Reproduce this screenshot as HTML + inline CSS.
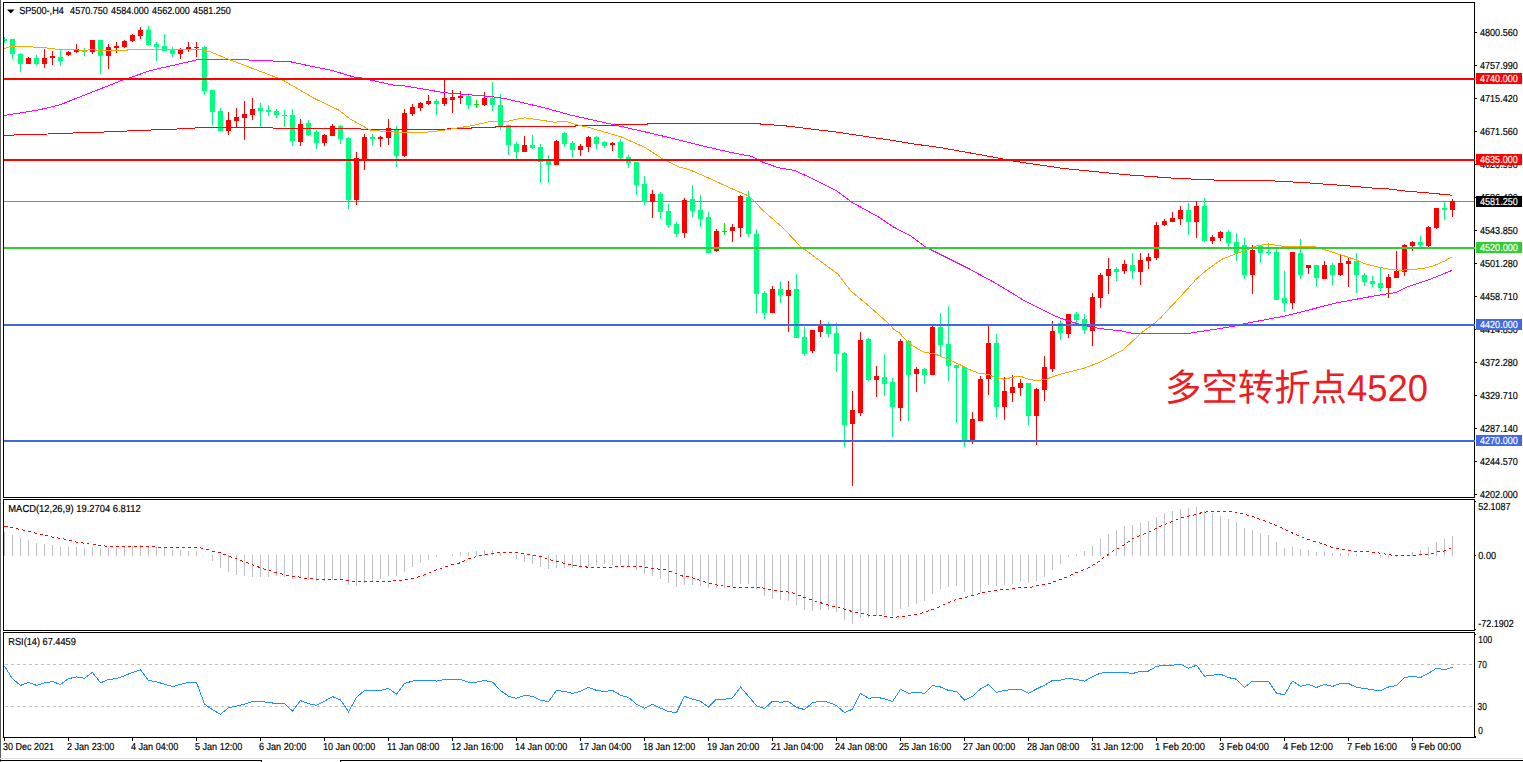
<!DOCTYPE html><html><head><meta charset="utf-8"><title>SP500-,H4</title>
<style>html,body{margin:0;padding:0;background:#fff;}svg{display:block}text{font-family:"Liberation Sans",sans-serif;text-rendering:geometricPrecision;}</style></head><body>
<svg width="1523" height="762" viewBox="0 0 1523 762">
<rect x="0" y="0" width="1523" height="762" fill="#fff"/>
<g shape-rendering="crispEdges">
<rect x="0" y="0" width="1" height="762" fill="#5c5c5c"/>
<clipPath id="cm"><rect x="4" y="3" width="1470" height="494"/></clipPath>
<rect x="4" y="201" width="1470" height="1" fill="#778899"/>
<g clip-path="url(#cm)">
<rect x="4" y="37" width="1" height="6" fill="#00FF7F"/>
<rect x="2" y="39" width="5" height="2" fill="#00FF7F"/>
<rect x="12" y="39" width="1" height="20" fill="#00FF7F"/>
<rect x="10" y="39" width="5" height="15" fill="#00FF7F"/>
<rect x="20" y="53" width="1" height="19" fill="#00FF7F"/>
<rect x="18" y="54" width="5" height="10" fill="#00FF7F"/>
<rect x="28" y="57" width="1" height="7" fill="#FF0000"/>
<rect x="26" y="58" width="5" height="6" fill="#FF0000"/>
<rect x="36" y="55" width="1" height="10" fill="#00FF7F"/>
<rect x="34" y="58" width="5" height="6" fill="#00FF7F"/>
<rect x="44" y="49" width="1" height="19" fill="#FF0000"/>
<rect x="42" y="58" width="5" height="6" fill="#FF0000"/>
<rect x="52" y="51" width="1" height="14" fill="#FF0000"/>
<rect x="50" y="56" width="5" height="2" fill="#FF0000"/>
<rect x="60" y="50" width="1" height="16" fill="#00FF7F"/>
<rect x="58" y="57" width="5" height="4" fill="#00FF7F"/>
<rect x="68" y="51" width="1" height="5" fill="#FF0000"/>
<rect x="66" y="52" width="5" height="3" fill="#FF0000"/>
<rect x="76" y="44" width="1" height="9" fill="#FF0000"/>
<rect x="74" y="49" width="5" height="3" fill="#FF0000"/>
<rect x="84" y="48" width="1" height="8" fill="#00FF7F"/>
<rect x="82" y="51" width="5" height="1" fill="#00FF7F"/>
<rect x="92" y="40" width="1" height="14" fill="#FF0000"/>
<rect x="90" y="40" width="5" height="12" fill="#FF0000"/>
<rect x="100" y="40" width="1" height="34" fill="#00FF7F"/>
<rect x="98" y="40" width="5" height="16" fill="#00FF7F"/>
<rect x="108" y="44" width="1" height="25" fill="#FF0000"/>
<rect x="106" y="47" width="5" height="9" fill="#FF0000"/>
<rect x="116" y="42" width="1" height="11" fill="#FF0000"/>
<rect x="114" y="46" width="5" height="2" fill="#FF0000"/>
<rect x="124" y="40" width="1" height="8" fill="#FF0000"/>
<rect x="122" y="41" width="5" height="6" fill="#FF0000"/>
<rect x="132" y="34" width="1" height="8" fill="#FF0000"/>
<rect x="130" y="35" width="5" height="6" fill="#FF0000"/>
<rect x="140" y="27" width="1" height="12" fill="#FF0000"/>
<rect x="138" y="30" width="5" height="6" fill="#FF0000"/>
<rect x="148" y="26" width="1" height="20" fill="#00FF7F"/>
<rect x="146" y="30" width="5" height="15" fill="#00FF7F"/>
<rect x="156" y="42" width="1" height="19" fill="#00FF7F"/>
<rect x="154" y="44" width="5" height="3" fill="#00FF7F"/>
<rect x="164" y="34" width="1" height="17" fill="#00FF7F"/>
<rect x="162" y="46" width="5" height="5" fill="#00FF7F"/>
<rect x="172" y="47" width="1" height="10" fill="#00FF7F"/>
<rect x="170" y="49" width="5" height="5" fill="#00FF7F"/>
<rect x="180" y="48" width="1" height="11" fill="#FF0000"/>
<rect x="178" y="49" width="5" height="5" fill="#FF0000"/>
<rect x="188" y="42" width="1" height="10" fill="#FF0000"/>
<rect x="186" y="47" width="5" height="2" fill="#FF0000"/>
<rect x="196" y="42" width="1" height="15" fill="#FF0000"/>
<rect x="194" y="47" width="5" height="1" fill="#FF0000"/>
<rect x="204" y="46" width="1" height="49" fill="#00FF7F"/>
<rect x="202" y="47" width="5" height="44" fill="#00FF7F"/>
<rect x="212" y="90" width="1" height="35" fill="#00FF7F"/>
<rect x="210" y="90" width="5" height="22" fill="#00FF7F"/>
<rect x="220" y="108" width="1" height="23" fill="#00FF7F"/>
<rect x="218" y="111" width="5" height="20" fill="#00FF7F"/>
<rect x="228" y="112" width="1" height="23" fill="#FF0000"/>
<rect x="226" y="120" width="5" height="11" fill="#FF0000"/>
<rect x="236" y="108" width="1" height="19" fill="#FF0000"/>
<rect x="234" y="117" width="5" height="4" fill="#FF0000"/>
<rect x="244" y="101" width="1" height="39" fill="#FF0000"/>
<rect x="242" y="114" width="5" height="4" fill="#FF0000"/>
<rect x="252" y="98" width="1" height="22" fill="#FF0000"/>
<rect x="250" y="109" width="5" height="6" fill="#FF0000"/>
<rect x="260" y="103" width="1" height="24" fill="#00FF7F"/>
<rect x="258" y="108" width="5" height="3" fill="#00FF7F"/>
<rect x="268" y="105" width="1" height="11" fill="#00FF7F"/>
<rect x="266" y="110" width="5" height="2" fill="#00FF7F"/>
<rect x="276" y="109" width="1" height="9" fill="#00FF7F"/>
<rect x="274" y="111" width="5" height="4" fill="#00FF7F"/>
<rect x="284" y="110" width="1" height="17" fill="#00FF7F"/>
<rect x="282" y="115" width="5" height="1" fill="#00FF7F"/>
<rect x="292" y="109" width="1" height="37" fill="#00FF7F"/>
<rect x="290" y="115" width="5" height="26" fill="#00FF7F"/>
<rect x="300" y="119" width="1" height="27" fill="#FF0000"/>
<rect x="298" y="124" width="5" height="18" fill="#FF0000"/>
<rect x="308" y="120" width="1" height="16" fill="#00FF7F"/>
<rect x="306" y="123" width="5" height="12" fill="#00FF7F"/>
<rect x="316" y="130" width="1" height="19" fill="#00FF7F"/>
<rect x="314" y="132" width="5" height="11" fill="#00FF7F"/>
<rect x="324" y="134" width="1" height="12" fill="#FF0000"/>
<rect x="322" y="135" width="5" height="8" fill="#FF0000"/>
<rect x="332" y="124" width="1" height="12" fill="#FF0000"/>
<rect x="330" y="126" width="5" height="10" fill="#FF0000"/>
<rect x="340" y="125" width="1" height="19" fill="#00FF7F"/>
<rect x="338" y="126" width="5" height="13" fill="#00FF7F"/>
<rect x="348" y="137" width="1" height="72" fill="#00FF7F"/>
<rect x="346" y="138" width="5" height="62" fill="#00FF7F"/>
<rect x="356" y="152" width="1" height="53" fill="#FF0000"/>
<rect x="354" y="158" width="5" height="42" fill="#FF0000"/>
<rect x="364" y="134" width="1" height="36" fill="#FF0000"/>
<rect x="362" y="137" width="5" height="23" fill="#FF0000"/>
<rect x="372" y="134" width="1" height="11" fill="#00FF7F"/>
<rect x="370" y="137" width="5" height="2" fill="#00FF7F"/>
<rect x="380" y="136" width="1" height="11" fill="#FF0000"/>
<rect x="378" y="137" width="5" height="2" fill="#FF0000"/>
<rect x="388" y="119" width="1" height="26" fill="#FF0000"/>
<rect x="386" y="128" width="5" height="10" fill="#FF0000"/>
<rect x="396" y="126" width="1" height="41" fill="#00FF7F"/>
<rect x="394" y="129" width="5" height="27" fill="#00FF7F"/>
<rect x="404" y="109" width="1" height="48" fill="#FF0000"/>
<rect x="402" y="113" width="5" height="43" fill="#FF0000"/>
<rect x="412" y="104" width="1" height="12" fill="#FF0000"/>
<rect x="410" y="107" width="5" height="7" fill="#FF0000"/>
<rect x="420" y="102" width="1" height="9" fill="#FF0000"/>
<rect x="418" y="103" width="5" height="5" fill="#FF0000"/>
<rect x="428" y="95" width="1" height="10" fill="#FF0000"/>
<rect x="426" y="101" width="5" height="3" fill="#FF0000"/>
<rect x="436" y="99" width="1" height="16" fill="#00FF7F"/>
<rect x="434" y="101" width="5" height="3" fill="#00FF7F"/>
<rect x="444" y="80" width="1" height="26" fill="#FF0000"/>
<rect x="442" y="98" width="5" height="6" fill="#FF0000"/>
<rect x="452" y="90" width="1" height="23" fill="#FF0000"/>
<rect x="450" y="97" width="5" height="3" fill="#FF0000"/>
<rect x="460" y="91" width="1" height="13" fill="#FF0000"/>
<rect x="458" y="96" width="5" height="2" fill="#FF0000"/>
<rect x="468" y="95" width="1" height="14" fill="#00FF7F"/>
<rect x="466" y="96" width="5" height="9" fill="#00FF7F"/>
<rect x="476" y="100" width="1" height="8" fill="#00E600"/>
<rect x="474" y="104" width="5" height="1" fill="#00E600"/>
<rect x="484" y="92" width="1" height="14" fill="#FF0000"/>
<rect x="482" y="98" width="5" height="7" fill="#FF0000"/>
<rect x="492" y="82" width="1" height="29" fill="#00FF7F"/>
<rect x="490" y="98" width="5" height="7" fill="#00FF7F"/>
<rect x="500" y="94" width="1" height="36" fill="#00FF7F"/>
<rect x="498" y="105" width="5" height="21" fill="#00FF7F"/>
<rect x="508" y="125" width="1" height="30" fill="#00FF7F"/>
<rect x="506" y="125" width="5" height="20" fill="#00FF7F"/>
<rect x="516" y="142" width="1" height="17" fill="#00FF7F"/>
<rect x="514" y="144" width="5" height="8" fill="#00FF7F"/>
<rect x="524" y="136" width="1" height="16" fill="#FF0000"/>
<rect x="522" y="145" width="5" height="7" fill="#FF0000"/>
<rect x="532" y="135" width="1" height="14" fill="#00FF7F"/>
<rect x="530" y="145" width="5" height="3" fill="#00FF7F"/>
<rect x="540" y="144" width="1" height="39" fill="#00FF7F"/>
<rect x="538" y="147" width="5" height="15" fill="#00FF7F"/>
<rect x="548" y="155" width="1" height="28" fill="#00FF7F"/>
<rect x="546" y="161" width="5" height="4" fill="#00FF7F"/>
<rect x="556" y="140" width="1" height="25" fill="#FF0000"/>
<rect x="554" y="141" width="5" height="24" fill="#FF0000"/>
<rect x="564" y="132" width="1" height="15" fill="#00FF7F"/>
<rect x="562" y="133" width="5" height="11" fill="#00FF7F"/>
<rect x="572" y="141" width="1" height="17" fill="#00FF7F"/>
<rect x="570" y="143" width="5" height="7" fill="#00FF7F"/>
<rect x="580" y="144" width="1" height="12" fill="#FF0000"/>
<rect x="578" y="146" width="5" height="4" fill="#FF0000"/>
<rect x="588" y="136" width="1" height="16" fill="#FF0000"/>
<rect x="586" y="137" width="5" height="10" fill="#FF0000"/>
<rect x="596" y="136" width="1" height="13" fill="#00FF7F"/>
<rect x="594" y="137" width="5" height="7" fill="#00FF7F"/>
<rect x="604" y="141" width="1" height="7" fill="#00FF7F"/>
<rect x="602" y="142" width="5" height="4" fill="#00FF7F"/>
<rect x="612" y="142" width="1" height="9" fill="#FF0000"/>
<rect x="610" y="143" width="5" height="2" fill="#FF0000"/>
<rect x="620" y="139" width="1" height="20" fill="#00FF7F"/>
<rect x="618" y="142" width="5" height="16" fill="#00FF7F"/>
<rect x="628" y="155" width="1" height="13" fill="#00FF7F"/>
<rect x="626" y="157" width="5" height="6" fill="#00FF7F"/>
<rect x="636" y="162" width="1" height="33" fill="#00FF7F"/>
<rect x="634" y="162" width="5" height="23" fill="#00FF7F"/>
<rect x="644" y="176" width="1" height="29" fill="#00FF7F"/>
<rect x="642" y="184" width="5" height="18" fill="#00FF7F"/>
<rect x="652" y="190" width="1" height="28" fill="#FF0000"/>
<rect x="650" y="194" width="5" height="8" fill="#FF0000"/>
<rect x="660" y="192" width="1" height="27" fill="#00FF7F"/>
<rect x="658" y="194" width="5" height="18" fill="#00FF7F"/>
<rect x="668" y="204" width="1" height="24" fill="#00FF7F"/>
<rect x="666" y="211" width="5" height="14" fill="#00FF7F"/>
<rect x="676" y="222" width="1" height="15" fill="#00FF7F"/>
<rect x="674" y="224" width="5" height="10" fill="#00FF7F"/>
<rect x="684" y="198" width="1" height="40" fill="#FF0000"/>
<rect x="682" y="200" width="5" height="33" fill="#FF0000"/>
<rect x="692" y="185" width="1" height="32" fill="#00FF7F"/>
<rect x="690" y="199" width="5" height="12" fill="#00FF7F"/>
<rect x="700" y="195" width="1" height="32" fill="#00FF7F"/>
<rect x="698" y="210" width="5" height="9" fill="#00FF7F"/>
<rect x="708" y="212" width="1" height="41" fill="#00FF7F"/>
<rect x="706" y="217" width="5" height="36" fill="#00FF7F"/>
<rect x="716" y="229" width="1" height="23" fill="#FF0000"/>
<rect x="714" y="231" width="5" height="20" fill="#FF0000"/>
<rect x="724" y="223" width="1" height="12" fill="#00E600"/>
<rect x="722" y="231" width="5" height="1" fill="#00E600"/>
<rect x="732" y="224" width="1" height="18" fill="#FF0000"/>
<rect x="730" y="227" width="5" height="4" fill="#FF0000"/>
<rect x="740" y="195" width="1" height="42" fill="#FF0000"/>
<rect x="738" y="196" width="5" height="32" fill="#FF0000"/>
<rect x="748" y="191" width="1" height="46" fill="#00FF7F"/>
<rect x="746" y="197" width="5" height="37" fill="#00FF7F"/>
<rect x="756" y="229" width="1" height="84" fill="#00FF7F"/>
<rect x="754" y="234" width="5" height="60" fill="#00FF7F"/>
<rect x="764" y="291" width="1" height="28" fill="#00FF7F"/>
<rect x="762" y="293" width="5" height="20" fill="#00FF7F"/>
<rect x="772" y="286" width="1" height="27" fill="#FF0000"/>
<rect x="770" y="289" width="5" height="24" fill="#FF0000"/>
<rect x="780" y="281" width="1" height="22" fill="#00FF7F"/>
<rect x="778" y="289" width="5" height="6" fill="#00FF7F"/>
<rect x="788" y="281" width="1" height="51" fill="#FF0000"/>
<rect x="786" y="290" width="5" height="6" fill="#FF0000"/>
<rect x="796" y="274" width="1" height="64" fill="#00FF7F"/>
<rect x="794" y="289" width="5" height="49" fill="#00FF7F"/>
<rect x="804" y="327" width="1" height="29" fill="#00FF7F"/>
<rect x="802" y="337" width="5" height="17" fill="#00FF7F"/>
<rect x="812" y="330" width="1" height="23" fill="#FF0000"/>
<rect x="810" y="330" width="5" height="21" fill="#FF0000"/>
<rect x="820" y="320" width="1" height="17" fill="#FF0000"/>
<rect x="818" y="326" width="5" height="6" fill="#FF0000"/>
<rect x="828" y="322" width="1" height="15" fill="#00FF7F"/>
<rect x="826" y="326" width="5" height="8" fill="#00FF7F"/>
<rect x="836" y="323" width="1" height="49" fill="#00FF7F"/>
<rect x="834" y="333" width="5" height="21" fill="#00FF7F"/>
<rect x="844" y="352" width="1" height="95" fill="#00FF7F"/>
<rect x="842" y="353" width="5" height="72" fill="#00FF7F"/>
<rect x="852" y="391" width="1" height="95" fill="#FF0000"/>
<rect x="850" y="410" width="5" height="14" fill="#FF0000"/>
<rect x="860" y="332" width="1" height="84" fill="#FF0000"/>
<rect x="858" y="340" width="5" height="73" fill="#FF0000"/>
<rect x="868" y="338" width="1" height="43" fill="#00FF7F"/>
<rect x="866" y="339" width="5" height="41" fill="#00FF7F"/>
<rect x="876" y="366" width="1" height="31" fill="#FF0000"/>
<rect x="874" y="376" width="5" height="4" fill="#FF0000"/>
<rect x="884" y="354" width="1" height="42" fill="#00FF7F"/>
<rect x="882" y="377" width="5" height="7" fill="#00FF7F"/>
<rect x="892" y="378" width="1" height="59" fill="#00FF7F"/>
<rect x="890" y="382" width="5" height="25" fill="#00FF7F"/>
<rect x="900" y="339" width="1" height="82" fill="#FF0000"/>
<rect x="898" y="341" width="5" height="67" fill="#FF0000"/>
<rect x="908" y="340" width="1" height="81" fill="#00FF7F"/>
<rect x="906" y="341" width="5" height="34" fill="#00FF7F"/>
<rect x="916" y="367" width="1" height="25" fill="#FF0000"/>
<rect x="914" y="369" width="5" height="5" fill="#FF0000"/>
<rect x="924" y="368" width="1" height="16" fill="#00FF7F"/>
<rect x="922" y="369" width="5" height="6" fill="#00FF7F"/>
<rect x="932" y="326" width="1" height="49" fill="#FF0000"/>
<rect x="930" y="327" width="5" height="48" fill="#FF0000"/>
<rect x="940" y="313" width="1" height="44" fill="#00FF7F"/>
<rect x="938" y="327" width="5" height="18" fill="#00FF7F"/>
<rect x="948" y="306" width="1" height="75" fill="#00FF7F"/>
<rect x="946" y="344" width="5" height="22" fill="#00FF7F"/>
<rect x="956" y="365" width="1" height="58" fill="#00FF7F"/>
<rect x="954" y="365" width="5" height="3" fill="#00FF7F"/>
<rect x="964" y="366" width="1" height="81" fill="#00FF7F"/>
<rect x="962" y="367" width="5" height="73" fill="#00FF7F"/>
<rect x="972" y="412" width="1" height="32" fill="#FF0000"/>
<rect x="970" y="419" width="5" height="21" fill="#FF0000"/>
<rect x="980" y="376" width="1" height="45" fill="#FF0000"/>
<rect x="978" y="379" width="5" height="42" fill="#FF0000"/>
<rect x="988" y="326" width="1" height="69" fill="#FF0000"/>
<rect x="986" y="343" width="5" height="36" fill="#FF0000"/>
<rect x="996" y="334" width="1" height="83" fill="#00FF7F"/>
<rect x="994" y="343" width="5" height="64" fill="#00FF7F"/>
<rect x="1004" y="377" width="1" height="43" fill="#FF0000"/>
<rect x="1002" y="391" width="5" height="16" fill="#FF0000"/>
<rect x="1012" y="375" width="1" height="27" fill="#FF0000"/>
<rect x="1010" y="387" width="5" height="6" fill="#FF0000"/>
<rect x="1020" y="379" width="1" height="17" fill="#FF0000"/>
<rect x="1018" y="383" width="5" height="5" fill="#FF0000"/>
<rect x="1028" y="383" width="1" height="42" fill="#00FF7F"/>
<rect x="1026" y="383" width="5" height="33" fill="#00FF7F"/>
<rect x="1036" y="388" width="1" height="57" fill="#FF0000"/>
<rect x="1034" y="389" width="5" height="27" fill="#FF0000"/>
<rect x="1044" y="356" width="1" height="45" fill="#FF0000"/>
<rect x="1042" y="367" width="5" height="23" fill="#FF0000"/>
<rect x="1052" y="321" width="1" height="51" fill="#FF0000"/>
<rect x="1050" y="331" width="5" height="38" fill="#FF0000"/>
<rect x="1060" y="320" width="1" height="20" fill="#00FF7F"/>
<rect x="1058" y="323" width="5" height="10" fill="#00FF7F"/>
<rect x="1068" y="314" width="1" height="24" fill="#FF0000"/>
<rect x="1066" y="314" width="5" height="20" fill="#FF0000"/>
<rect x="1076" y="312" width="1" height="11" fill="#00FF7F"/>
<rect x="1074" y="314" width="5" height="6" fill="#00FF7F"/>
<rect x="1084" y="314" width="1" height="20" fill="#00FF7F"/>
<rect x="1082" y="319" width="5" height="11" fill="#00FF7F"/>
<rect x="1092" y="293" width="1" height="53" fill="#FF0000"/>
<rect x="1090" y="297" width="5" height="34" fill="#FF0000"/>
<rect x="1100" y="273" width="1" height="35" fill="#FF0000"/>
<rect x="1098" y="275" width="5" height="23" fill="#FF0000"/>
<rect x="1108" y="258" width="1" height="36" fill="#FF0000"/>
<rect x="1106" y="269" width="5" height="7" fill="#FF0000"/>
<rect x="1116" y="267" width="1" height="14" fill="#00FF7F"/>
<rect x="1114" y="269" width="5" height="3" fill="#00FF7F"/>
<rect x="1124" y="260" width="1" height="14" fill="#FF0000"/>
<rect x="1122" y="264" width="5" height="7" fill="#FF0000"/>
<rect x="1132" y="253" width="1" height="26" fill="#00FF7F"/>
<rect x="1130" y="265" width="5" height="6" fill="#00FF7F"/>
<rect x="1140" y="253" width="1" height="32" fill="#FF0000"/>
<rect x="1138" y="260" width="5" height="12" fill="#FF0000"/>
<rect x="1148" y="253" width="1" height="16" fill="#FF0000"/>
<rect x="1146" y="257" width="5" height="4" fill="#FF0000"/>
<rect x="1156" y="222" width="1" height="38" fill="#FF0000"/>
<rect x="1154" y="225" width="5" height="33" fill="#FF0000"/>
<rect x="1164" y="219" width="1" height="7" fill="#FF0000"/>
<rect x="1162" y="221" width="5" height="4" fill="#FF0000"/>
<rect x="1172" y="212" width="1" height="10" fill="#FF0000"/>
<rect x="1170" y="218" width="5" height="4" fill="#FF0000"/>
<rect x="1180" y="206" width="1" height="19" fill="#FF0000"/>
<rect x="1178" y="210" width="5" height="9" fill="#FF0000"/>
<rect x="1188" y="203" width="1" height="32" fill="#00FF7F"/>
<rect x="1186" y="210" width="5" height="12" fill="#00FF7F"/>
<rect x="1196" y="201" width="1" height="37" fill="#FF0000"/>
<rect x="1194" y="206" width="5" height="16" fill="#FF0000"/>
<rect x="1204" y="198" width="1" height="44" fill="#00FF7F"/>
<rect x="1202" y="206" width="5" height="35" fill="#00FF7F"/>
<rect x="1212" y="235" width="1" height="9" fill="#FF0000"/>
<rect x="1210" y="237" width="5" height="4" fill="#FF0000"/>
<rect x="1220" y="231" width="1" height="10" fill="#FF0000"/>
<rect x="1218" y="232" width="5" height="6" fill="#FF0000"/>
<rect x="1228" y="230" width="1" height="20" fill="#00FF7F"/>
<rect x="1226" y="232" width="5" height="11" fill="#00FF7F"/>
<rect x="1236" y="233" width="1" height="28" fill="#00FF7F"/>
<rect x="1234" y="242" width="5" height="11" fill="#00FF7F"/>
<rect x="1244" y="238" width="1" height="41" fill="#00FF7F"/>
<rect x="1242" y="245" width="5" height="30" fill="#00FF7F"/>
<rect x="1252" y="245" width="1" height="49" fill="#FF0000"/>
<rect x="1250" y="250" width="5" height="25" fill="#FF0000"/>
<rect x="1260" y="246" width="1" height="17" fill="#00FF7F"/>
<rect x="1258" y="246" width="5" height="7" fill="#00FF7F"/>
<rect x="1268" y="243" width="1" height="12" fill="#00FF7F"/>
<rect x="1266" y="252" width="5" height="1" fill="#00FF7F"/>
<rect x="1276" y="249" width="1" height="51" fill="#00FF7F"/>
<rect x="1274" y="252" width="5" height="48" fill="#00FF7F"/>
<rect x="1284" y="271" width="1" height="41" fill="#00FF7F"/>
<rect x="1282" y="298" width="5" height="5" fill="#00FF7F"/>
<rect x="1292" y="252" width="1" height="57" fill="#FF0000"/>
<rect x="1290" y="252" width="5" height="51" fill="#FF0000"/>
<rect x="1300" y="239" width="1" height="40" fill="#00FF7F"/>
<rect x="1298" y="253" width="5" height="22" fill="#00FF7F"/>
<rect x="1308" y="265" width="1" height="9" fill="#FF0000"/>
<rect x="1306" y="265" width="5" height="3" fill="#FF0000"/>
<rect x="1316" y="265" width="1" height="22" fill="#00FF7F"/>
<rect x="1314" y="265" width="5" height="13" fill="#00FF7F"/>
<rect x="1324" y="261" width="1" height="18" fill="#FF0000"/>
<rect x="1322" y="265" width="5" height="14" fill="#FF0000"/>
<rect x="1332" y="263" width="1" height="23" fill="#00FF7F"/>
<rect x="1330" y="265" width="5" height="10" fill="#00FF7F"/>
<rect x="1340" y="255" width="1" height="21" fill="#FF0000"/>
<rect x="1338" y="263" width="5" height="12" fill="#FF0000"/>
<rect x="1348" y="257" width="1" height="30" fill="#FF0000"/>
<rect x="1346" y="261" width="5" height="3" fill="#FF0000"/>
<rect x="1356" y="253" width="1" height="40" fill="#00FF7F"/>
<rect x="1354" y="261" width="5" height="14" fill="#00FF7F"/>
<rect x="1364" y="273" width="1" height="13" fill="#00FF7F"/>
<rect x="1362" y="275" width="5" height="7" fill="#00FF7F"/>
<rect x="1372" y="276" width="1" height="11" fill="#00FF7F"/>
<rect x="1370" y="281" width="5" height="3" fill="#00FF7F"/>
<rect x="1380" y="268" width="1" height="23" fill="#00FF7F"/>
<rect x="1378" y="283" width="5" height="5" fill="#00FF7F"/>
<rect x="1388" y="274" width="1" height="24" fill="#FF0000"/>
<rect x="1386" y="277" width="5" height="11" fill="#FF0000"/>
<rect x="1396" y="251" width="1" height="27" fill="#FF0000"/>
<rect x="1394" y="271" width="5" height="7" fill="#FF0000"/>
<rect x="1404" y="244" width="1" height="32" fill="#FF0000"/>
<rect x="1402" y="245" width="5" height="27" fill="#FF0000"/>
<rect x="1412" y="241" width="1" height="10" fill="#FF0000"/>
<rect x="1410" y="242" width="5" height="4" fill="#FF0000"/>
<rect x="1420" y="236" width="1" height="11" fill="#00FF7F"/>
<rect x="1418" y="242" width="5" height="3" fill="#00FF7F"/>
<rect x="1428" y="226" width="1" height="21" fill="#FF0000"/>
<rect x="1426" y="227" width="5" height="19" fill="#FF0000"/>
<rect x="1436" y="208" width="1" height="21" fill="#FF0000"/>
<rect x="1434" y="208" width="5" height="20" fill="#FF0000"/>
<rect x="1444" y="202" width="1" height="18" fill="#00FF7F"/>
<rect x="1442" y="208" width="5" height="2" fill="#00FF7F"/>
<rect x="1452" y="199" width="1" height="18" fill="#FF0000"/>
<rect x="1450" y="201" width="5" height="9" fill="#FF0000"/>
</g>
<g clip-path="url(#cm)">
<polyline points="4.0,135.3 24.0,134.7 48.0,134.0 73.0,133.0 97.0,132.3 121.0,131.3 137.0,130.5 160.0,129.7 192.0,128.4 200.0,127.4 272.0,127.4 274.0,128.6 360.0,128.6 362.0,129.6 447.0,129.6 448.0,128.6 471.0,128.6 472.0,127.5 495.0,127.5 496.0,126.5 575.0,126.5 576.0,125.4 615.0,125.4 616.0,124.4 647.0,124.4 648.0,123.4 752.0,123.4 784.0,125.7 810.0,128.9 836.0,132.0 862.6,136.0 889.0,139.9 915.0,144.1 941.4,147.8 967.7,152.5 1000.0,158.3 1009.5,160.5 1063.0,168.4 1126.0,174.7 1176.5,178.4 1220.6,180.3 1261.6,180.3 1302.6,182.5 1346.7,185.7 1378.2,188.6 1385.0,188.6 1393.0,189.5 1401.0,190.5 1409.0,191.5 1425.0,192.5 1433.0,193.6 1449.0,194.6 1452.0,195.5" fill="none" stroke="#FF0000" stroke-width="1" />
<polyline points="4.0,115.5 26.0,112.0 38.1,110.1 60.4,104.6 122.1,80.3 151.0,70.4 200.0,59.2 248.6,59.7 249.2,60.6 272.9,60.6 273.5,61.4 288.6,61.4 311.6,66.3 331.3,70.2 355.0,77.4 360.9,77.8 370.7,80.1 395.7,85.7 400.0,85.2 444.6,92.7 491.9,96.7 505.1,98.6 544.5,107.8 570.7,115.1 600.0,121.6 626.3,127.6 652.5,133.6 678.8,139.9 705.1,146.5 731.3,152.5 752.3,156.5 762.8,162.2 778.6,167.8 794.4,170.4 810.1,177.5 836.4,190.6 852.1,202.4 878.4,216.9 894.2,227.4 909.9,235.3 925.7,247.1 941.4,255.0 967.7,268.1 995.5,283.1 1025.7,301.5 1051.9,314.6 1065.1,319.9 1078.2,323.8 1091.3,327.1 1104.5,329.1 1120.2,330.7 1129.4,332.8 1137.3,333.7 1189.9,333.2 1231.9,326.6 1246.4,323.3 1284.5,316.1 1310.7,309.5 1335.7,303.0 1375.1,295.8 1396.1,292.5 1407.9,286.6 1430.2,279.3 1451.9,270.4" fill="none" stroke="#FF00FF" stroke-width="1" />
<polyline points="4.0,48.6 4.9,48.3 12.5,46.1 31.5,46.1 34.1,47.4 48.6,48.1 57.8,49.4 73.5,49.4 84.0,50.7 91.9,49.4 99.8,50.7 126.1,50.7 128.7,49.4 200.0,49.4 210.5,51.8 226.3,58.4 276.2,77.4 284.0,80.7 314.2,98.4 339.2,110.3 349.7,118.8 368.1,129.0 372.0,130.6 386.5,131.3 400.0,132.5 423.6,132.5 439.4,130.8 452.5,128.8 472.2,125.6 491.9,121.2 507.7,121.2 518.2,119.0 524.8,117.9 528.7,118.3 544.5,120.7 555.0,122.3 562.8,121.2 566.8,121.6 576.0,124.6 589.1,127.5 600.0,130.8 621.0,136.8 644.6,147.3 663.0,159.1 678.8,167.0 689.3,169.6 710.3,178.8 731.3,188.5 749.7,196.4 762.8,210.3 783.8,228.7 802.2,248.4 805.1,249.8 837.9,274.1 851.0,291.2 870.7,307.6 889.1,324.0 894.2,329.7 899.5,333.0 906.1,340.2 911.3,344.8 916.6,348.1 924.5,352.3 935.0,354.0 949.4,359.9 966.5,367.8 967.9,369.0 979.7,373.6 988.9,374.3 995.5,377.6 1004.6,379.2 1016.5,376.3 1021.7,376.7 1028.3,379.2 1036.2,380.5 1045.4,379.5 1059.8,374.3 1083.4,368.4 1099.2,362.5 1122.8,350.1 1141.2,333.0 1154.4,323.3 1161.0,317.4 1176.8,300.4 1194.2,281.7 1194.5,280.7 1206.1,270.5 1221.8,259.3 1235.0,254.1 1245.5,250.2 1257.3,245.6 1267.8,244.2 1280.0,245.6 1283.1,246.5 1288.4,246.1 1313.3,246.1 1322.5,249.1 1339.6,254.4 1355.4,259.6 1364.6,263.6 1380.3,267.5 1390.8,269.5 1401.3,270.2 1414.5,269.1 1422.3,268.8 1434.1,265.6 1444.7,261.0 1451.9,257.0" fill="none" stroke="#FFA500" stroke-width="1" />
</g>
<rect x="3" y="2" width="1472" height="1" fill="#000"/>
<rect x="3" y="2" width="1" height="736" fill="#000"/>
<rect x="1474" y="2" width="1" height="736" fill="#000"/>
<rect x="3" y="497" width="1472" height="1" fill="#000"/>
<rect x="3" y="498" width="1" height="1" fill="#fff"/>
<rect x="3" y="499" width="1472" height="1" fill="#000"/>
<rect x="3" y="630" width="1472" height="1" fill="#000"/>
<rect x="3" y="631" width="1" height="1" fill="#fff"/>
<rect x="3" y="632" width="1472" height="1" fill="#000"/>
<rect x="3" y="737" width="1473" height="1" fill="#000"/>
<rect x="1474" y="498" width="1" height="1" fill="#fff"/>
<rect x="1474" y="631" width="1" height="1" fill="#fff"/>
<rect x="4" y="78" width="1471" height="2" fill="#FF0000"/>
<rect x="4" y="159" width="1471" height="2" fill="#FF0000"/>
<rect x="4" y="247" width="1471" height="2" fill="#32CD32"/>
<rect x="4" y="324" width="1471" height="2" fill="#4169E1"/>
<rect x="4" y="440" width="1471" height="2" fill="#4169E1"/>
<rect x="1475" y="32" width="2" height="1" fill="#000"/>
<rect x="1475" y="65" width="2" height="1" fill="#000"/>
<rect x="1475" y="98" width="2" height="1" fill="#000"/>
<rect x="1475" y="131" width="2" height="1" fill="#000"/>
<rect x="1475" y="164" width="2" height="1" fill="#000"/>
<rect x="1475" y="197" width="2" height="1" fill="#000"/>
<rect x="1475" y="230" width="2" height="1" fill="#000"/>
<rect x="1475" y="263" width="2" height="1" fill="#000"/>
<rect x="1475" y="296" width="2" height="1" fill="#000"/>
<rect x="1475" y="329" width="2" height="1" fill="#000"/>
<rect x="1475" y="362" width="2" height="1" fill="#000"/>
<rect x="1475" y="395" width="2" height="1" fill="#000"/>
<rect x="1475" y="428" width="2" height="1" fill="#000"/>
<rect x="1475" y="461" width="2" height="1" fill="#000"/>
<rect x="1475" y="494" width="2" height="1" fill="#000"/>
<rect x="1475" y="501" width="1" height="1" fill="#000"/>
<rect x="1475" y="555" width="1" height="1" fill="#000"/>
<rect x="1475" y="629" width="1" height="1" fill="#000"/>
<rect x="1475" y="634" width="1" height="1" fill="#000"/>
<rect x="1475" y="736" width="1" height="1" fill="#000"/>
<rect x="4" y="738" width="1" height="3" fill="#000"/>
<rect x="68" y="738" width="1" height="3" fill="#000"/>
<rect x="132" y="738" width="1" height="3" fill="#000"/>
<rect x="196" y="738" width="1" height="3" fill="#000"/>
<rect x="260" y="738" width="1" height="3" fill="#000"/>
<rect x="324" y="738" width="1" height="3" fill="#000"/>
<rect x="388" y="738" width="1" height="3" fill="#000"/>
<rect x="452" y="738" width="1" height="3" fill="#000"/>
<rect x="516" y="738" width="1" height="3" fill="#000"/>
<rect x="580" y="738" width="1" height="3" fill="#000"/>
<rect x="644" y="738" width="1" height="3" fill="#000"/>
<rect x="708" y="738" width="1" height="3" fill="#000"/>
<rect x="772" y="738" width="1" height="3" fill="#000"/>
<rect x="836" y="738" width="1" height="3" fill="#000"/>
<rect x="900" y="738" width="1" height="3" fill="#000"/>
<rect x="964" y="738" width="1" height="3" fill="#000"/>
<rect x="1028" y="738" width="1" height="3" fill="#000"/>
<rect x="1092" y="738" width="1" height="3" fill="#000"/>
<rect x="1156" y="738" width="1" height="3" fill="#000"/>
<rect x="1220" y="738" width="1" height="3" fill="#000"/>
<rect x="1284" y="738" width="1" height="3" fill="#000"/>
<rect x="1348" y="738" width="1" height="3" fill="#000"/>
<rect x="1412" y="738" width="1" height="3" fill="#000"/>
<rect x="0" y="758" width="1523" height="1" fill="#dcdcdc"/>
<rect x="0" y="760" width="262" height="1" fill="#000"/>
<rect x="261" y="760" width="1" height="2" fill="#000"/>
<rect x="340" y="760" width="1183" height="1" fill="#000"/>
<rect x="340" y="760" width="1" height="2" fill="#000"/>
<rect x="4" y="532" width="1" height="24" fill="#C0C0C0"/>
<rect x="12" y="535" width="1" height="21" fill="#C0C0C0"/>
<rect x="20" y="538" width="1" height="18" fill="#C0C0C0"/>
<rect x="28" y="540" width="1" height="16" fill="#C0C0C0"/>
<rect x="36" y="543" width="1" height="13" fill="#C0C0C0"/>
<rect x="44" y="544" width="1" height="12" fill="#C0C0C0"/>
<rect x="52" y="545" width="1" height="11" fill="#C0C0C0"/>
<rect x="60" y="547" width="1" height="9" fill="#C0C0C0"/>
<rect x="68" y="547" width="1" height="9" fill="#C0C0C0"/>
<rect x="76" y="547" width="1" height="9" fill="#C0C0C0"/>
<rect x="84" y="548" width="1" height="8" fill="#C0C0C0"/>
<rect x="92" y="547" width="1" height="9" fill="#C0C0C0"/>
<rect x="100" y="548" width="1" height="8" fill="#C0C0C0"/>
<rect x="108" y="548" width="1" height="8" fill="#C0C0C0"/>
<rect x="116" y="548" width="1" height="8" fill="#C0C0C0"/>
<rect x="124" y="547" width="1" height="9" fill="#C0C0C0"/>
<rect x="132" y="546" width="1" height="10" fill="#C0C0C0"/>
<rect x="140" y="545" width="1" height="11" fill="#C0C0C0"/>
<rect x="148" y="546" width="1" height="10" fill="#C0C0C0"/>
<rect x="156" y="547" width="1" height="9" fill="#C0C0C0"/>
<rect x="164" y="548" width="1" height="8" fill="#C0C0C0"/>
<rect x="172" y="550" width="1" height="6" fill="#C0C0C0"/>
<rect x="180" y="550" width="1" height="6" fill="#C0C0C0"/>
<rect x="188" y="551" width="1" height="5" fill="#C0C0C0"/>
<rect x="196" y="551" width="1" height="5" fill="#C0C0C0"/>
<rect x="212" y="555" width="1" height="6" fill="#C0C0C0"/>
<rect x="220" y="555" width="1" height="13" fill="#C0C0C0"/>
<rect x="228" y="555" width="1" height="17" fill="#C0C0C0"/>
<rect x="236" y="555" width="1" height="20" fill="#C0C0C0"/>
<rect x="244" y="555" width="1" height="21" fill="#C0C0C0"/>
<rect x="252" y="555" width="1" height="22" fill="#C0C0C0"/>
<rect x="260" y="555" width="1" height="22" fill="#C0C0C0"/>
<rect x="268" y="555" width="1" height="22" fill="#C0C0C0"/>
<rect x="276" y="555" width="1" height="21" fill="#C0C0C0"/>
<rect x="284" y="555" width="1" height="22" fill="#C0C0C0"/>
<rect x="292" y="555" width="1" height="24" fill="#C0C0C0"/>
<rect x="300" y="555" width="1" height="23" fill="#C0C0C0"/>
<rect x="308" y="555" width="1" height="25" fill="#C0C0C0"/>
<rect x="316" y="555" width="1" height="26" fill="#C0C0C0"/>
<rect x="324" y="555" width="1" height="26" fill="#C0C0C0"/>
<rect x="332" y="555" width="1" height="25" fill="#C0C0C0"/>
<rect x="340" y="555" width="1" height="25" fill="#C0C0C0"/>
<rect x="348" y="555" width="1" height="30" fill="#C0C0C0"/>
<rect x="356" y="555" width="1" height="31" fill="#C0C0C0"/>
<rect x="364" y="555" width="1" height="28" fill="#C0C0C0"/>
<rect x="372" y="555" width="1" height="26" fill="#C0C0C0"/>
<rect x="380" y="555" width="1" height="24" fill="#C0C0C0"/>
<rect x="388" y="555" width="1" height="21" fill="#C0C0C0"/>
<rect x="396" y="555" width="1" height="21" fill="#C0C0C0"/>
<rect x="404" y="555" width="1" height="17" fill="#C0C0C0"/>
<rect x="412" y="555" width="1" height="12" fill="#C0C0C0"/>
<rect x="420" y="555" width="1" height="8" fill="#C0C0C0"/>
<rect x="428" y="555" width="1" height="5" fill="#C0C0C0"/>
<rect x="436" y="555" width="1" height="2" fill="#C0C0C0"/>
<rect x="452" y="554" width="1" height="2" fill="#C0C0C0"/>
<rect x="460" y="552" width="1" height="4" fill="#C0C0C0"/>
<rect x="468" y="552" width="1" height="4" fill="#C0C0C0"/>
<rect x="476" y="551" width="1" height="5" fill="#C0C0C0"/>
<rect x="484" y="550" width="1" height="6" fill="#C0C0C0"/>
<rect x="492" y="550" width="1" height="6" fill="#C0C0C0"/>
<rect x="500" y="553" width="1" height="3" fill="#C0C0C0"/>
<rect x="516" y="555" width="1" height="4" fill="#C0C0C0"/>
<rect x="524" y="555" width="1" height="7" fill="#C0C0C0"/>
<rect x="532" y="555" width="1" height="9" fill="#C0C0C0"/>
<rect x="540" y="555" width="1" height="12" fill="#C0C0C0"/>
<rect x="548" y="555" width="1" height="14" fill="#C0C0C0"/>
<rect x="556" y="555" width="1" height="13" fill="#C0C0C0"/>
<rect x="564" y="555" width="1" height="13" fill="#C0C0C0"/>
<rect x="572" y="555" width="1" height="13" fill="#C0C0C0"/>
<rect x="580" y="555" width="1" height="12" fill="#C0C0C0"/>
<rect x="588" y="555" width="1" height="11" fill="#C0C0C0"/>
<rect x="596" y="555" width="1" height="10" fill="#C0C0C0"/>
<rect x="604" y="555" width="1" height="9" fill="#C0C0C0"/>
<rect x="612" y="555" width="1" height="10" fill="#C0C0C0"/>
<rect x="620" y="555" width="1" height="10" fill="#C0C0C0"/>
<rect x="628" y="555" width="1" height="11" fill="#C0C0C0"/>
<rect x="636" y="555" width="1" height="15" fill="#C0C0C0"/>
<rect x="644" y="555" width="1" height="19" fill="#C0C0C0"/>
<rect x="652" y="555" width="1" height="21" fill="#C0C0C0"/>
<rect x="660" y="555" width="1" height="24" fill="#C0C0C0"/>
<rect x="668" y="555" width="1" height="28" fill="#C0C0C0"/>
<rect x="676" y="555" width="1" height="32" fill="#C0C0C0"/>
<rect x="684" y="555" width="1" height="30" fill="#C0C0C0"/>
<rect x="692" y="555" width="1" height="30" fill="#C0C0C0"/>
<rect x="700" y="555" width="1" height="31" fill="#C0C0C0"/>
<rect x="708" y="555" width="1" height="33" fill="#C0C0C0"/>
<rect x="716" y="555" width="1" height="33" fill="#C0C0C0"/>
<rect x="724" y="555" width="1" height="33" fill="#C0C0C0"/>
<rect x="732" y="555" width="1" height="32" fill="#C0C0C0"/>
<rect x="740" y="555" width="1" height="29" fill="#C0C0C0"/>
<rect x="748" y="555" width="1" height="29" fill="#C0C0C0"/>
<rect x="756" y="555" width="1" height="34" fill="#C0C0C0"/>
<rect x="764" y="555" width="1" height="41" fill="#C0C0C0"/>
<rect x="772" y="555" width="1" height="44" fill="#C0C0C0"/>
<rect x="780" y="555" width="1" height="45" fill="#C0C0C0"/>
<rect x="788" y="555" width="1" height="46" fill="#C0C0C0"/>
<rect x="796" y="555" width="1" height="50" fill="#C0C0C0"/>
<rect x="804" y="555" width="1" height="55" fill="#C0C0C0"/>
<rect x="812" y="555" width="1" height="56" fill="#C0C0C0"/>
<rect x="820" y="555" width="1" height="55" fill="#C0C0C0"/>
<rect x="828" y="555" width="1" height="55" fill="#C0C0C0"/>
<rect x="836" y="555" width="1" height="57" fill="#C0C0C0"/>
<rect x="844" y="555" width="1" height="65" fill="#C0C0C0"/>
<rect x="852" y="555" width="1" height="69" fill="#C0C0C0"/>
<rect x="860" y="555" width="1" height="63" fill="#C0C0C0"/>
<rect x="868" y="555" width="1" height="63" fill="#C0C0C0"/>
<rect x="876" y="555" width="1" height="61" fill="#C0C0C0"/>
<rect x="884" y="555" width="1" height="60" fill="#C0C0C0"/>
<rect x="892" y="555" width="1" height="61" fill="#C0C0C0"/>
<rect x="900" y="555" width="1" height="54" fill="#C0C0C0"/>
<rect x="908" y="555" width="1" height="52" fill="#C0C0C0"/>
<rect x="916" y="555" width="1" height="49" fill="#C0C0C0"/>
<rect x="924" y="555" width="1" height="46" fill="#C0C0C0"/>
<rect x="932" y="555" width="1" height="39" fill="#C0C0C0"/>
<rect x="940" y="555" width="1" height="34" fill="#C0C0C0"/>
<rect x="948" y="555" width="1" height="32" fill="#C0C0C0"/>
<rect x="956" y="555" width="1" height="31" fill="#C0C0C0"/>
<rect x="964" y="555" width="1" height="37" fill="#C0C0C0"/>
<rect x="972" y="555" width="1" height="40" fill="#C0C0C0"/>
<rect x="980" y="555" width="1" height="37" fill="#C0C0C0"/>
<rect x="988" y="555" width="1" height="30" fill="#C0C0C0"/>
<rect x="996" y="555" width="1" height="31" fill="#C0C0C0"/>
<rect x="1004" y="555" width="1" height="30" fill="#C0C0C0"/>
<rect x="1012" y="555" width="1" height="29" fill="#C0C0C0"/>
<rect x="1020" y="555" width="1" height="27" fill="#C0C0C0"/>
<rect x="1028" y="555" width="1" height="28" fill="#C0C0C0"/>
<rect x="1036" y="555" width="1" height="26" fill="#C0C0C0"/>
<rect x="1044" y="555" width="1" height="22" fill="#C0C0C0"/>
<rect x="1052" y="555" width="1" height="15" fill="#C0C0C0"/>
<rect x="1060" y="555" width="1" height="9" fill="#C0C0C0"/>
<rect x="1068" y="555" width="1" height="2" fill="#C0C0C0"/>
<rect x="1076" y="554" width="1" height="2" fill="#C0C0C0"/>
<rect x="1084" y="551" width="1" height="5" fill="#C0C0C0"/>
<rect x="1092" y="546" width="1" height="10" fill="#C0C0C0"/>
<rect x="1100" y="539" width="1" height="17" fill="#C0C0C0"/>
<rect x="1108" y="534" width="1" height="22" fill="#C0C0C0"/>
<rect x="1116" y="530" width="1" height="26" fill="#C0C0C0"/>
<rect x="1124" y="526" width="1" height="30" fill="#C0C0C0"/>
<rect x="1132" y="525" width="1" height="31" fill="#C0C0C0"/>
<rect x="1140" y="523" width="1" height="33" fill="#C0C0C0"/>
<rect x="1148" y="521" width="1" height="35" fill="#C0C0C0"/>
<rect x="1156" y="517" width="1" height="39" fill="#C0C0C0"/>
<rect x="1164" y="513" width="1" height="43" fill="#C0C0C0"/>
<rect x="1172" y="511" width="1" height="45" fill="#C0C0C0"/>
<rect x="1180" y="509" width="1" height="47" fill="#C0C0C0"/>
<rect x="1188" y="508" width="1" height="48" fill="#C0C0C0"/>
<rect x="1196" y="507" width="1" height="49" fill="#C0C0C0"/>
<rect x="1204" y="511" width="1" height="45" fill="#C0C0C0"/>
<rect x="1212" y="513" width="1" height="43" fill="#C0C0C0"/>
<rect x="1220" y="516" width="1" height="40" fill="#C0C0C0"/>
<rect x="1228" y="519" width="1" height="37" fill="#C0C0C0"/>
<rect x="1236" y="522" width="1" height="34" fill="#C0C0C0"/>
<rect x="1244" y="528" width="1" height="28" fill="#C0C0C0"/>
<rect x="1252" y="530" width="1" height="26" fill="#C0C0C0"/>
<rect x="1260" y="533" width="1" height="23" fill="#C0C0C0"/>
<rect x="1268" y="535" width="1" height="21" fill="#C0C0C0"/>
<rect x="1276" y="542" width="1" height="14" fill="#C0C0C0"/>
<rect x="1284" y="548" width="1" height="8" fill="#C0C0C0"/>
<rect x="1292" y="547" width="1" height="9" fill="#C0C0C0"/>
<rect x="1300" y="549" width="1" height="7" fill="#C0C0C0"/>
<rect x="1308" y="550" width="1" height="6" fill="#C0C0C0"/>
<rect x="1316" y="552" width="1" height="4" fill="#C0C0C0"/>
<rect x="1324" y="552" width="1" height="4" fill="#C0C0C0"/>
<rect x="1332" y="553" width="1" height="3" fill="#C0C0C0"/>
<rect x="1340" y="553" width="1" height="3" fill="#C0C0C0"/>
<rect x="1348" y="553" width="1" height="3" fill="#C0C0C0"/>
<rect x="1356" y="554" width="1" height="2" fill="#C0C0C0"/>
<rect x="1380" y="555" width="1" height="3" fill="#C0C0C0"/>
<rect x="1388" y="555" width="1" height="3" fill="#C0C0C0"/>
<rect x="1396" y="555" width="1" height="2" fill="#C0C0C0"/>
<rect x="1412" y="552" width="1" height="4" fill="#C0C0C0"/>
<rect x="1420" y="550" width="1" height="6" fill="#C0C0C0"/>
<rect x="1428" y="547" width="1" height="9" fill="#C0C0C0"/>
<rect x="1436" y="542" width="1" height="14" fill="#C0C0C0"/>
<rect x="1444" y="539" width="1" height="17" fill="#C0C0C0"/>
<rect x="1452" y="536" width="1" height="20" fill="#C0C0C0"/>
<line x1="5" y1="664.5" x2="1474" y2="664.5" stroke="#C0C0C0" stroke-width="1" stroke-dasharray="3,3"/>
<line x1="5" y1="706.5" x2="1474" y2="706.5" stroke="#C0C0C0" stroke-width="1" stroke-dasharray="3,3"/>
<polyline points="4.5,526.4 12.6,528.0 20.5,529.4 28.6,531.4 36.6,533.3 44.5,534.9 52.6,537.3 60.7,538.3 68.5,540.2 76.6,542.2 84.7,543.2 92.6,544.6 100.6,545.5 108.5,546.5 116.6,546.5 197.0,547.5 204.6,548.5 212.5,551.1 220.6,553.0 228.5,556.0 236.6,558.9 244.6,561.9 252.5,564.8 260.6,567.8 268.7,570.4 276.5,572.7 284.6,574.7 292.7,576.1 300.0,577.1 305.9,578.6 323.6,579.6 341.4,579.6 349.2,580.6 357.1,581.6 372.9,582.0 388.6,581.2 406.4,579.6 413.3,578.2 420.1,576.3 426.1,574.3 432.0,571.7 437.9,569.4 443.8,567.4 449.7,565.4 461.5,562.5 467.4,559.3 473.3,557.4 479.2,555.6 485.1,554.6 492.0,553.4 497.0,552.6 518.6,552.6 522.6,553.4 528.5,554.6 540.3,556.6 546.2,558.3 552.1,560.3 558.0,561.3 563.9,563.3 569.8,564.5 575.8,565.8 581.7,566.8 595.5,567.4 600.0,567.4 611.8,567.2 619.7,566.2 639.4,566.2 643.3,567.4 653.2,568.4 665.0,569.8 678.8,574.3 682.7,576.1 690.6,577.3 696.5,579.2 702.4,581.0 708.3,583.2 714.2,584.5 720.1,585.5 726.1,586.5 732.0,587.1 759.5,587.1 767.4,589.1 773.3,590.5 783.2,591.4 791.1,592.4 797.0,594.4 802.9,597.0 810.8,599.7 816.7,601.7 822.6,603.3 828.5,605.2 834.4,606.6 840.3,608.2 846.2,609.6 852.1,611.5 858.0,612.5 863.9,614.1 869.8,615.5 879.7,615.7 885.6,616.6 893.5,617.4 900.0,616.6 911.8,615.5 917.7,614.1 923.6,612.5 929.5,610.5 935.5,608.6 941.4,605.6 947.3,602.9 953.2,600.7 959.1,598.7 965.0,597.7 970.9,595.8 976.8,594.4 982.7,592.4 994.5,590.5 1006.4,589.5 1018.2,587.9 1030.0,587.5 1037.9,585.5 1047.7,584.2 1055.6,581.2 1061.5,579.2 1067.4,576.7 1073.3,574.1 1079.2,571.3 1085.1,569.4 1091.1,566.2 1097.0,562.9 1102.9,558.3 1108.8,554.0 1114.7,550.1 1120.6,547.1 1126.5,543.2 1132.4,538.7 1138.3,536.3 1146.2,533.3 1152.1,530.8 1158.0,527.4 1163.9,524.9 1169.8,522.5 1175.8,519.9 1181.7,517.6 1187.6,516.2 1193.5,515.2 1199.4,513.2 1207.9,511.7 1219.7,511.3 1231.5,511.3 1241.4,513.2 1247.3,515.0 1253.2,516.6 1259.1,519.0 1265.0,521.1 1270.9,523.5 1277.8,525.8 1283.7,528.8 1289.6,531.8 1295.5,534.3 1301.4,536.9 1307.3,539.2 1313.3,541.2 1319.2,542.8 1325.1,544.8 1331.0,547.1 1337.9,548.7 1343.8,549.5 1349.7,550.5 1357.6,551.5 1367.4,551.7 1373.3,552.4 1379.2,553.0 1385.1,554.0 1391.1,555.0 1397.0,555.4 1414.7,555.4 1420.6,554.6 1428.5,554.4 1434.4,553.0 1438.3,551.7 1444.2,551.1 1448.2,549.1 1452.5,548.1" fill="none" stroke="#FF0000" stroke-width="1" stroke-dasharray="3,3"/>
<polyline points="4.5,666.2 12.5,678.7 20.5,685.4 28.5,682.4 36.5,685.4 44.5,682.9 52.5,681.6 60.5,684.4 68.5,678.7 76.5,676.9 84.5,678.2 92.5,672.4 100.5,682.9 108.5,679.4 116.5,678.7 124.5,675.7 132.5,672.4 140.5,669.9 148.5,680.4 156.5,681.9 164.5,684.1 172.5,686.6 180.5,684.4 188.5,682.4 196.5,682.4 204.5,704.1 212.5,709.8 220.5,714.3 228.5,707.8 236.5,706.1 244.5,704.1 252.5,701.6 260.5,701.6 268.5,702.4 276.5,703.6 284.5,703.6 292.5,711.1 300.5,700.6 308.5,703.6 316.5,705.3 324.5,701.1 332.5,696.6 340.5,699.9 348.5,711.8 356.5,697.4 364.5,690.6 372.5,690.4 380.5,690.4 388.5,688.4 396.5,694.3 404.5,683.5 412.5,681.1 420.5,680.1 428.5,680.1 436.5,681.1 444.5,679.5 452.5,679.2 460.5,679.5 468.5,682.1 476.5,682.1 484.5,680.5 492.5,682.1 500.5,690.4 508.5,696.3 516.5,698.3 524.5,695.3 532.5,696.3 540.5,700.2 548.5,701.6 556.5,690.4 564.5,691.4 572.5,693.3 580.5,691.4 588.5,687.4 596.5,690.4 604.5,691.4 612.5,690.4 620.5,695.3 628.5,697.3 636.5,704.2 644.5,708.1 652.5,704.2 660.5,708.1 668.5,711.5 676.5,712.6 684.5,696.3 692.5,699.2 700.5,701.2 708.5,707.1 716.5,699.2 724.5,699.2 732.5,697.9 740.5,687.0 748.5,696.3 756.5,705.7 764.5,708.5 772.5,701.2 780.5,702.2 788.5,701.6 796.5,707.5 804.5,709.5 812.5,702.6 820.5,701.2 828.5,702.2 836.5,705.7 844.5,712.6 852.5,709.1 860.5,693.3 868.5,698.3 876.5,697.3 884.5,698.7 892.5,701.6 900.5,689.4 908.5,693.3 916.5,692.3 924.5,693.3 932.5,685.5 940.5,687.0 948.5,690.4 956.5,691.4 964.5,700.2 972.5,696.3 980.5,689.0 988.5,684.5 996.5,692.3 1004.5,690.4 1012.5,689.4 1020.5,689.4 1028.5,693.3 1036.5,689.0 1044.5,685.1 1052.5,680.5 1060.5,680.1 1068.5,678.2 1076.5,679.5 1084.5,681.1 1092.5,676.6 1100.5,673.2 1108.5,672.3 1116.5,672.3 1124.5,672.3 1132.5,673.6 1140.5,671.3 1148.5,671.1 1156.5,666.3 1164.5,665.2 1172.5,665.2 1180.5,664.2 1188.5,668.3 1196.5,665.2 1204.5,676.2 1212.5,675.2 1220.5,674.2 1228.5,677.6 1236.5,679.2 1244.5,687.4 1252.5,681.1 1260.5,681.1 1268.5,681.1 1276.5,693.3 1284.5,694.7 1292.5,681.1 1300.5,686.4 1308.5,684.5 1316.5,687.4 1324.5,684.5 1332.5,686.4 1340.5,683.5 1348.5,683.5 1356.5,687.4 1364.5,688.4 1372.5,689.8 1380.5,690.8 1388.5,687.0 1396.5,685.5 1404.5,677.6 1412.5,676.2 1420.5,677.6 1428.5,673.2 1436.5,668.3 1444.5,669.7 1452.5,667.3" fill="none" stroke="#1E90FF" stroke-width="1" />
</g>
<path d="M7 9.5 L14.5 9.5 L10.75 13.5 Z" fill="#000"/>
<text x="19.2" y="14" font-size="10.2" fill="#000" stroke="#000" stroke-width="0.18" textLength="44.6" lengthAdjust="spacingAndGlyphs" >SP500-,H4</text>
<text x="70.1" y="14" font-size="10.2" fill="#000" stroke="#000" stroke-width="0.18" textLength="37.8" lengthAdjust="spacingAndGlyphs" >4570.750</text>
<text x="111.1" y="14" font-size="10.2" fill="#000" stroke="#000" stroke-width="0.18" textLength="37.8" lengthAdjust="spacingAndGlyphs" >4584.000</text>
<text x="152.1" y="14" font-size="10.2" fill="#000" stroke="#000" stroke-width="0.18" textLength="37.8" lengthAdjust="spacingAndGlyphs" >4562.000</text>
<text x="193.1" y="14" font-size="10.2" fill="#000" stroke="#000" stroke-width="0.18" textLength="37.8" lengthAdjust="spacingAndGlyphs" >4581.250</text>
<text x="1480" y="36" font-size="10.2" fill="#000" stroke="#000" stroke-width="0.18" textLength="37.8" lengthAdjust="spacingAndGlyphs" >4800.560</text>
<text x="1480" y="69" font-size="10.2" fill="#000" stroke="#000" stroke-width="0.18" textLength="37.8" lengthAdjust="spacingAndGlyphs" >4757.990</text>
<text x="1480" y="102" font-size="10.2" fill="#000" stroke="#000" stroke-width="0.18" textLength="37.8" lengthAdjust="spacingAndGlyphs" >4715.420</text>
<text x="1480" y="135" font-size="10.2" fill="#000" stroke="#000" stroke-width="0.18" textLength="37.8" lengthAdjust="spacingAndGlyphs" >4671.560</text>
<text x="1480" y="168" font-size="10.2" fill="#000" stroke="#000" stroke-width="0.18" textLength="37.8" lengthAdjust="spacingAndGlyphs" >4628.990</text>
<text x="1480" y="201" font-size="10.2" fill="#000" stroke="#000" stroke-width="0.18" textLength="37.8" lengthAdjust="spacingAndGlyphs" >4586.420</text>
<text x="1480" y="234" font-size="10.2" fill="#000" stroke="#000" stroke-width="0.18" textLength="37.8" lengthAdjust="spacingAndGlyphs" >4543.850</text>
<text x="1480" y="267" font-size="10.2" fill="#000" stroke="#000" stroke-width="0.18" textLength="37.8" lengthAdjust="spacingAndGlyphs" >4501.280</text>
<text x="1480" y="300" font-size="10.2" fill="#000" stroke="#000" stroke-width="0.18" textLength="37.8" lengthAdjust="spacingAndGlyphs" >4458.710</text>
<text x="1480" y="333" font-size="10.2" fill="#000" stroke="#000" stroke-width="0.18" textLength="37.8" lengthAdjust="spacingAndGlyphs" >4414.850</text>
<text x="1480" y="366" font-size="10.2" fill="#000" stroke="#000" stroke-width="0.18" textLength="37.8" lengthAdjust="spacingAndGlyphs" >4372.280</text>
<text x="1480" y="399" font-size="10.2" fill="#000" stroke="#000" stroke-width="0.18" textLength="37.8" lengthAdjust="spacingAndGlyphs" >4329.710</text>
<text x="1480" y="432" font-size="10.2" fill="#000" stroke="#000" stroke-width="0.18" textLength="37.8" lengthAdjust="spacingAndGlyphs" >4287.140</text>
<text x="1480" y="465" font-size="10.2" fill="#000" stroke="#000" stroke-width="0.18" textLength="37.8" lengthAdjust="spacingAndGlyphs" >4244.570</text>
<text x="1480" y="498" font-size="10.2" fill="#000" stroke="#000" stroke-width="0.18" textLength="37.8" lengthAdjust="spacingAndGlyphs" >4202.000</text>
<g shape-rendering="crispEdges">
<rect x="1476" y="73" width="46" height="11" fill="#FF0000"/>
<rect x="1476" y="154" width="46" height="11" fill="#FF0000"/>
<rect x="1476" y="196" width="46" height="11" fill="#000000"/>
<rect x="1476" y="242" width="46" height="11" fill="#32CD32"/>
<rect x="1476" y="319" width="46" height="11" fill="#4169E1"/>
<rect x="1476" y="435" width="46" height="11" fill="#4169E1"/>
</g>
<text x="1480" y="82" font-size="10.2" fill="#fff" stroke="#fff" stroke-width="0.18" textLength="37.8" lengthAdjust="spacingAndGlyphs" >4740.000</text>
<text x="1480" y="163" font-size="10.2" fill="#fff" stroke="#fff" stroke-width="0.18" textLength="37.8" lengthAdjust="spacingAndGlyphs" >4635.000</text>
<text x="1480" y="205" font-size="10.2" fill="#fff" stroke="#fff" stroke-width="0.18" textLength="37.8" lengthAdjust="spacingAndGlyphs" >4581.250</text>
<text x="1480" y="251" font-size="10.2" fill="#fff" stroke="#fff" stroke-width="0.18" textLength="37.8" lengthAdjust="spacingAndGlyphs" >4520.000</text>
<text x="1480" y="328" font-size="10.2" fill="#fff" stroke="#fff" stroke-width="0.18" textLength="37.8" lengthAdjust="spacingAndGlyphs" >4420.000</text>
<text x="1480" y="444" font-size="10.2" fill="#fff" stroke="#fff" stroke-width="0.18" textLength="37.8" lengthAdjust="spacingAndGlyphs" >4270.000</text>
<text x="8.3" y="512" font-size="10.2" fill="#000" stroke="#000" stroke-width="0.18" textLength="132.5" lengthAdjust="spacingAndGlyphs" >MACD(12,26,9) 19.2704 6.8112</text>
<text x="8.3" y="645" font-size="10.2" fill="#000" stroke="#000" stroke-width="0.18" textLength="67.5" lengthAdjust="spacingAndGlyphs" >RSI(14) 67.4459</text>
<text x="1478.2" y="510" font-size="10.2" fill="#000" stroke="#000" stroke-width="0.18" textLength="32.3" lengthAdjust="spacingAndGlyphs" >52.1087</text>
<text x="1478.3" y="559" font-size="10.2" fill="#000" stroke="#000" stroke-width="0.18" textLength="17.7" lengthAdjust="spacingAndGlyphs" >0.00</text>
<text x="1478.3" y="627" font-size="10.2" fill="#000" stroke="#000" stroke-width="0.18" textLength="35.4" lengthAdjust="spacingAndGlyphs" >-72.1902</text>
<text x="1478.3" y="643" font-size="10.2" fill="#000" stroke="#000" stroke-width="0.18" textLength="13.8" lengthAdjust="spacingAndGlyphs" >100</text>
<text x="1477.6" y="668" font-size="10.2" fill="#000" stroke="#000" stroke-width="0.18" textLength="9.2" lengthAdjust="spacingAndGlyphs" >70</text>
<text x="1477.6" y="710" font-size="10.2" fill="#000" stroke="#000" stroke-width="0.18" textLength="9.2" lengthAdjust="spacingAndGlyphs" >30</text>
<text x="1478.3" y="734" font-size="10.2" fill="#000" stroke="#000" stroke-width="0.18" textLength="4.6" lengthAdjust="spacingAndGlyphs" >0</text>
<text x="3.0" y="750" font-size="10.2" fill="#000" stroke="#000" stroke-width="0.18" textLength="51.0" lengthAdjust="spacingAndGlyphs" >30 Dec 2021</text>
<text x="67.0" y="750" font-size="10.2" fill="#000" stroke="#000" stroke-width="0.18" textLength="47.3" lengthAdjust="spacingAndGlyphs" >2 Jan 23:00</text>
<text x="131.0" y="750" font-size="10.2" fill="#000" stroke="#000" stroke-width="0.18" textLength="47.3" lengthAdjust="spacingAndGlyphs" >4 Jan 04:00</text>
<text x="195.0" y="750" font-size="10.2" fill="#000" stroke="#000" stroke-width="0.18" textLength="47.3" lengthAdjust="spacingAndGlyphs" >5 Jan 12:00</text>
<text x="259.0" y="750" font-size="10.2" fill="#000" stroke="#000" stroke-width="0.18" textLength="47.3" lengthAdjust="spacingAndGlyphs" >6 Jan 20:00</text>
<text x="323.0" y="750" font-size="10.2" fill="#000" stroke="#000" stroke-width="0.18" textLength="52.4" lengthAdjust="spacingAndGlyphs" >10 Jan 00:00</text>
<text x="387.0" y="750" font-size="10.2" fill="#000" stroke="#000" stroke-width="0.18" textLength="52.4" lengthAdjust="spacingAndGlyphs" >11 Jan 08:00</text>
<text x="451.0" y="750" font-size="10.2" fill="#000" stroke="#000" stroke-width="0.18" textLength="52.4" lengthAdjust="spacingAndGlyphs" >12 Jan 16:00</text>
<text x="515.0" y="750" font-size="10.2" fill="#000" stroke="#000" stroke-width="0.18" textLength="52.4" lengthAdjust="spacingAndGlyphs" >14 Jan 00:00</text>
<text x="579.0" y="750" font-size="10.2" fill="#000" stroke="#000" stroke-width="0.18" textLength="52.4" lengthAdjust="spacingAndGlyphs" >17 Jan 04:00</text>
<text x="643.0" y="750" font-size="10.2" fill="#000" stroke="#000" stroke-width="0.18" textLength="52.4" lengthAdjust="spacingAndGlyphs" >18 Jan 12:00</text>
<text x="707.0" y="750" font-size="10.2" fill="#000" stroke="#000" stroke-width="0.18" textLength="52.4" lengthAdjust="spacingAndGlyphs" >19 Jan 20:00</text>
<text x="771.0" y="750" font-size="10.2" fill="#000" stroke="#000" stroke-width="0.18" textLength="52.4" lengthAdjust="spacingAndGlyphs" >21 Jan 04:00</text>
<text x="835.0" y="750" font-size="10.2" fill="#000" stroke="#000" stroke-width="0.18" textLength="52.4" lengthAdjust="spacingAndGlyphs" >24 Jan 08:00</text>
<text x="899.0" y="750" font-size="10.2" fill="#000" stroke="#000" stroke-width="0.18" textLength="52.4" lengthAdjust="spacingAndGlyphs" >25 Jan 16:00</text>
<text x="963.0" y="750" font-size="10.2" fill="#000" stroke="#000" stroke-width="0.18" textLength="52.4" lengthAdjust="spacingAndGlyphs" >27 Jan 00:00</text>
<text x="1027.0" y="750" font-size="10.2" fill="#000" stroke="#000" stroke-width="0.18" textLength="52.4" lengthAdjust="spacingAndGlyphs" >28 Jan 08:00</text>
<text x="1091.0" y="750" font-size="10.2" fill="#000" stroke="#000" stroke-width="0.18" textLength="52.4" lengthAdjust="spacingAndGlyphs" >31 Jan 12:00</text>
<text x="1155.0" y="750" font-size="10.2" fill="#000" stroke="#000" stroke-width="0.18" textLength="50.0" lengthAdjust="spacingAndGlyphs" >1 Feb 20:00</text>
<text x="1219.0" y="750" font-size="10.2" fill="#000" stroke="#000" stroke-width="0.18" textLength="50.0" lengthAdjust="spacingAndGlyphs" >3 Feb 04:00</text>
<text x="1283.0" y="750" font-size="10.2" fill="#000" stroke="#000" stroke-width="0.18" textLength="50.0" lengthAdjust="spacingAndGlyphs" >4 Feb 12:00</text>
<text x="1347.0" y="750" font-size="10.2" fill="#000" stroke="#000" stroke-width="0.18" textLength="50.0" lengthAdjust="spacingAndGlyphs" >7 Feb 16:00</text>
<text x="1411.0" y="750" font-size="10.2" fill="#000" stroke="#000" stroke-width="0.18" textLength="50.0" lengthAdjust="spacingAndGlyphs" >9 Feb 00:00</text>
<text x="1165" y="400.5" font-size="37.6" fill="#ED1C24" textLength="263" lengthAdjust="spacingAndGlyphs" style="font-family:'Liberation Sans','Noto Sans CJK SC',sans-serif;">多空转折点4520</text>
</svg></body></html>
